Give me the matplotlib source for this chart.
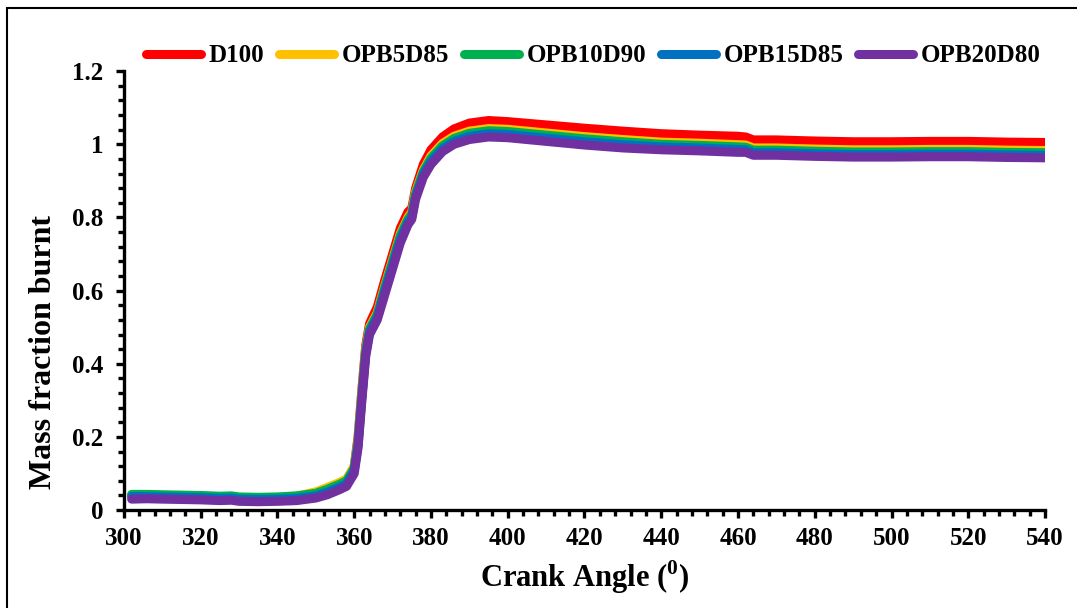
import matplotlib
matplotlib.use("Agg")
import matplotlib.pyplot as plt
from matplotlib.ticker import MultipleLocator, FuncFormatter
from matplotlib.patches import Rectangle

plt.rcParams['font.family'] = ['Liberation Serif', 'DejaVu Serif']
plt.rcParams['font.weight'] = 'bold'
plt.rcParams['mathtext.fontset'] = 'custom'
plt.rcParams['mathtext.rm'] = 'Liberation Serif:bold'
plt.rcParams['mathtext.bf'] = 'Liberation Serif:bold'

crank_angle = [302, 306, 310, 315, 320, 325, 328, 330, 335, 340, 345, 350, 353,
               356, 358, 360, 361, 362, 363, 364, 366, 368, 370, 372, 374, 375,
               376, 378, 380, 383, 386, 390, 395, 400, 410, 420, 430, 440, 450,
               460, 462, 464, 470, 480, 490, 500, 510, 520, 530, 540]

d100 = [0.040, 0.040, 0.039, 0.038, 0.037, 0.035, 0.036, 0.033, 0.032, 0.033,
        0.036, 0.045, 0.055, 0.068, 0.078, 0.120, 0.200, 0.330, 0.450, 0.510,
        0.555, 0.630, 0.700, 0.770, 0.815, 0.825, 0.880, 0.945, 0.985, 1.020,
        1.042, 1.058, 1.065, 1.062, 1.053, 1.044, 1.036, 1.029, 1.025, 1.022,
        1.020, 1.012, 1.012, 1.009, 1.007, 1.007, 1.008, 1.008, 1.006, 1.005]

opb5d85 = [0.041, 0.041, 0.040, 0.039, 0.038, 0.036, 0.037, 0.034, 0.033, 0.034,
           0.038, 0.050, 0.062, 0.075, 0.085, 0.120, 0.190, 0.320, 0.440, 0.500,
           0.540, 0.615, 0.685, 0.755, 0.800, 0.815, 0.870, 0.930, 0.968, 1.002,
           1.022, 1.036, 1.043, 1.041, 1.031, 1.021, 1.013, 1.006, 1.003, 0.999,
           0.998, 0.990, 0.990, 0.987, 0.985, 0.985, 0.986, 0.986, 0.984, 0.983]

opb10d90 = [0.043, 0.043, 0.042, 0.041, 0.040, 0.038, 0.039, 0.036, 0.035, 0.036,
            0.039, 0.046, 0.057, 0.070, 0.080, 0.115, 0.185, 0.315, 0.435, 0.495,
            0.535, 0.610, 0.680, 0.750, 0.795, 0.810, 0.865, 0.925, 0.962, 0.996,
            1.016, 1.030, 1.037, 1.035, 1.025, 1.015, 1.007, 1.000, 0.997, 0.993,
            0.992, 0.984, 0.984, 0.981, 0.979, 0.979, 0.980, 0.980, 0.978, 0.977]

opb15d85 = [0.037, 0.037, 0.036, 0.035, 0.034, 0.032, 0.033, 0.030, 0.029, 0.030,
            0.032, 0.039, 0.049, 0.062, 0.072, 0.108, 0.178, 0.308, 0.428, 0.488,
            0.528, 0.600, 0.670, 0.740, 0.787, 0.802, 0.857, 0.918, 0.954, 0.988,
            1.008, 1.022, 1.029, 1.027, 1.017, 1.007, 0.999, 0.993, 0.990, 0.986,
            0.985, 0.977, 0.977, 0.974, 0.972, 0.972, 0.973, 0.973, 0.971, 0.970]

opb20d80 = [0.030, 0.031, 0.030, 0.029, 0.028, 0.026, 0.027, 0.024, 0.023, 0.024,
            0.026, 0.033, 0.042, 0.055, 0.065, 0.100, 0.170, 0.300, 0.420, 0.480,
            0.520, 0.590, 0.660, 0.730, 0.780, 0.795, 0.850, 0.910, 0.945, 0.980,
            1.000, 1.013, 1.020, 1.018, 1.008, 0.998, 0.990, 0.985, 0.982, 0.978,
            0.978, 0.970, 0.970, 0.967, 0.965, 0.965, 0.966, 0.966, 0.964, 0.963]

labels = ['D100', 'OPB5D85', 'OPB10D90', 'OPB15D85', 'OPB20D80']
colors = ['#FF0000', '#FFC000', '#00B050', '#0070C0', '#7030A0']
series = [d100, opb5d85, opb10d90, opb15d85, opb20d80]

fig = plt.figure(figsize=(10.77, 6.08), dpi=100)
ax = fig.add_axes([0.1151, 0.161, 0.8552, 0.722])

for vals, lab, col in zip(series, labels, colors):
    ax.plot(crank_angle, vals, color=col, lw=6.5, label=lab,
            solid_capstyle='round', solid_joinstyle='round')

ax.set_xlim(300, 540)
ax.set_ylim(0, 1.2)
ax.xaxis.set_major_locator(MultipleLocator(20))
ax.xaxis.set_minor_locator(MultipleLocator(4))
ax.yaxis.set_major_locator(MultipleLocator(0.2))
ax.yaxis.set_minor_locator(MultipleLocator(0.04))
ax.yaxis.set_major_formatter(FuncFormatter(lambda v, p: f'{v:g}'))

for s in ['top', 'right']:
    ax.spines[s].set_visible(False)
for s in ['left', 'bottom']:
    ax.spines[s].set_linewidth(2.4)

ax.tick_params(which='major', direction='out', length=6, width=2.4,
               labelsize=18)
ax.tick_params(axis='y', which='major', pad=9)
ax.tick_params(axis='x', which='major', pad=6)
ax.tick_params(which='minor', direction='out', length=4, width=2.4)
for t in ax.get_xticklabels() + ax.get_yticklabels():
    t.set_fontweight('bold')

ax.set_xlabel(r'Crank Angle ($^{0}$)', fontsize=22, fontweight='bold')
ax.set_ylabel('Mass fraction burnt', fontsize=23, fontweight='bold')
ax.xaxis.set_label_coords(0.5, -0.11)
ax.yaxis.set_label_coords(-0.072, 0.36)

leg = fig.legend(loc='center', bbox_to_anchor=(0.551, 0.908), ncol=5,
                 frameon=False, fontsize=18, handlelength=2.2,
                 handletextpad=0.3, columnspacing=0.6)
for h in leg.get_lines():
    h.set_linewidth(6.5)
    h.set_solid_capstyle('round')

fig.patches.append(Rectangle((7 / 1077, -0.05), 1.1, 1 - 8 / 608 + 0.05,
                             transform=fig.transFigure, fill=False,
                             edgecolor='black', linewidth=1.5))

fig.savefig('out.png', dpi=100)
